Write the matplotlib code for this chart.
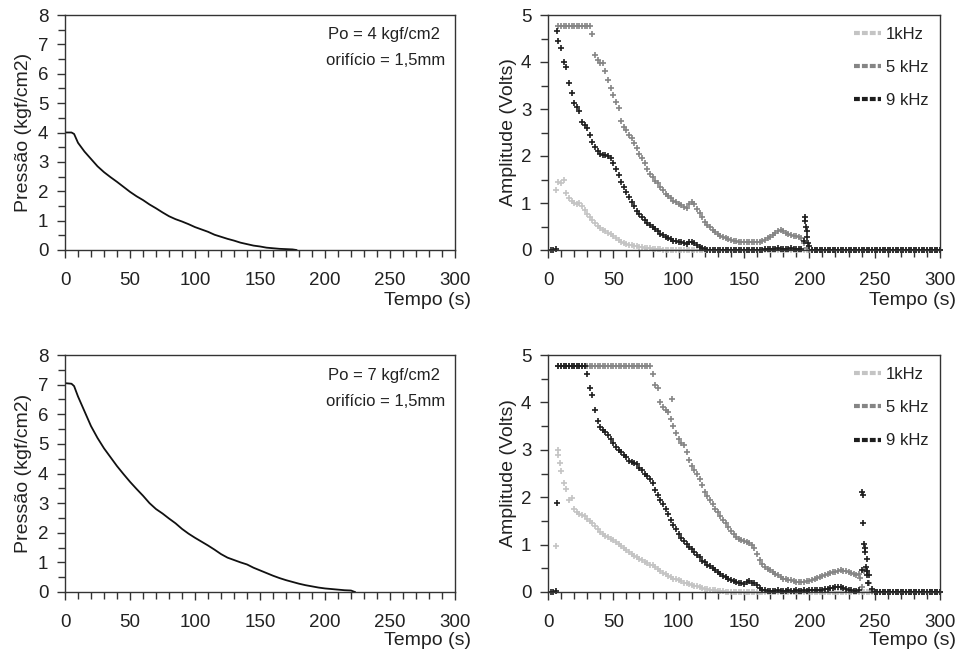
import numpy as np
import matplotlib
matplotlib.use("Agg")
import matplotlib.pyplot as plt
from matplotlib.lines import Line2D
from matplotlib.ticker import MultipleLocator

plt.rcParams['font.family'] = ['Liberation Sans', 'DejaVu Sans']
nan = np.nan

# ---------------- pressure data ----------------
p4_t = [0, 5, 7, 10, 15, 20, 25, 30, 35, 40, 45, 50, 55, 60, 65, 70, 75, 80, 85, 90,
        95, 100, 105, 110, 115, 120, 125, 130, 135, 140, 145, 150, 155, 160, 165, 170,
        175, 178]
p4_v = [4.0, 4.0, 3.95, 3.65, 3.35, 3.1, 2.85, 2.65, 2.48, 2.32, 2.15, 1.98, 1.83, 1.7,
        1.55, 1.42, 1.28, 1.15, 1.05, 0.97, 0.88, 0.78, 0.7, 0.62, 0.52, 0.45, 0.38,
        0.32, 0.25, 0.2, 0.15, 0.12, 0.08, 0.06, 0.04, 0.03, 0.02, 0.0]

p7_t = [0, 5, 7, 10, 15, 20, 25, 30, 35, 40, 45, 50, 55, 60, 65, 70, 75, 80, 85, 90,
        95, 100, 105, 110, 115, 120, 125, 130, 135, 140, 145, 150, 155, 160, 165, 170,
        175, 180, 185, 190, 195, 200, 205, 210, 215, 220, 223]
p7_v = [7.05, 7.03, 6.95, 6.6, 6.1, 5.6, 5.2, 4.85, 4.55, 4.25, 3.98, 3.72, 3.48, 3.25,
        3.0, 2.8, 2.65, 2.48, 2.32, 2.13, 1.97, 1.83, 1.7, 1.57, 1.43, 1.28, 1.16, 1.08,
        1.0, 0.93, 0.82, 0.73, 0.64, 0.55, 0.47, 0.4, 0.34, 0.28, 0.23, 0.19, 0.15, 0.12,
        0.1, 0.08, 0.06, 0.05, 0.0]

# ---------------- amplitude data (sampled every 2 s, t = 2 ... 300) ----------------
t_start, t_step = 2, 2

a1_top = [
    nan, nan, 1.28, 1.45, 1.42, 1.50, 1.22, 1.10, 1.05, 1.00,   # t 2-20
    0.98, 1.00, 0.93, 0.86, 0.76, 0.70, 0.63, 0.57, 0.52, 0.47,  # 22-40
    0.42, 0.40, 0.37, 0.35, 0.30, 0.26, 0.22, 0.17, 0.14, 0.13,  # 42-60
    0.11, 0.10, 0.09, 0.08, 0.07, 0.06, 0.05, 0.05, 0.04, 0.03,  # 62-80
    0.03, 0.02, 0.02, 0.01, 0.01, 0, 0, 0, 0, 0,                 # 82-100
    0, 0, 0, 0, 0, 0, 0, 0, 0, 0,
    0, 0, 0, 0, 0, 0, 0, 0, 0, 0,
    0, 0, 0, 0, 0, 0, 0, 0, 0, 0,
    0, 0, 0, 0, 0, 0, 0, 0, 0, 0,
    0, 0, 0, 0, 0, 0, 0, 0, 0, 0,
    0, 0, 0, 0, 0, 0, 0, 0, 0, 0,
    0, 0, 0, 0, 0, 0, 0, 0, 0, 0,
    0, 0, 0, 0, 0, 0, 0, 0, 0, 0,
    0, 0, 0, 0, 0, 0, 0, 0, 0, 0,
    0, 0, 0, 0, 0, 0, 0, 0, 0, 0,
]
a5_top = [
    nan, nan, nan, 4.77, 4.77, 4.77, 4.77, 4.77, 4.77, 4.77,    # 2-20
    4.77, 4.77, 4.77, 4.77, 4.77, 4.77, 4.60, 4.15, 4.05, 3.97,  # 22-40
    3.97, 3.80, 3.62, 3.45, 3.30, 3.15, 3.02, 2.75, 2.62, 2.55,  # 42-60
    2.45, 2.38, 2.28, 2.18, 2.05, 1.95, 1.85, 1.72, 1.62, 1.55,  # 62-80
    1.47, 1.42, 1.35, 1.27, 1.20, 1.15, 1.10, 1.05, 1.02, 0.98,  # 82-100
    0.95, 0.92, 0.90, 0.97, 1.02, 0.98, 0.88, 0.78, 0.70, 0.60,  # 102-120
    0.54, 0.48, 0.43, 0.38, 0.34, 0.30, 0.28, 0.25, 0.23, 0.22,  # 122-140
    0.20, 0.19, 0.18, 0.18, 0.17, 0.18, 0.16, 0.17, 0.16, 0.17,  # 142-160
    0.16, 0.19, 0.22, 0.25, 0.28, 0.32, 0.36, 0.40, 0.42, 0.40,  # 162-180
    0.36, 0.34, 0.32, 0.30, 0.30, 0.28, 0.25, 0.15, 0.05, 0,     # 182-200
    0, 0, 0, 0, 0, 0, 0, 0, 0, 0,
    0, 0, 0, 0, 0, 0, 0, 0, 0, 0,
    0, 0, 0, 0, 0, 0, 0, 0, 0, 0,
    0, 0, 0, 0, 0, 0, 0, 0, 0, 0,
    0, 0, 0, 0, 0, 0, 0, 0, 0, 0,
]
a9_top = [
    0, 0, 0.02, 4.45, 4.30, 4.00, 3.90, 3.55, 3.35, 3.12,       # 2-20
    3.05, 2.95, 2.72, 2.65, 2.60, 2.45, 2.30, 2.20, 2.10, 2.05,  # 22-40
    2.02, 2.03, 2.00, 1.95, 1.85, 1.72, 1.60, 1.45, 1.35, 1.24,  # 42-60
    1.12, 1.03, 0.94, 0.84, 0.76, 0.70, 0.63, 0.58, 0.53, 0.48,  # 62-80
    0.44, 0.40, 0.35, 0.31, 0.28, 0.26, 0.23, 0.20, 0.19, 0.18,  # 82-100
    0.16, 0.14, 0.13, 0.16, 0.18, 0.14, 0.10, 0.07, 0.04, 0.02,  # 102-120
    0.01, 0.01, 0, 0, 0, 0, 0.01, 0, 0, 0,                       # 122-140
    0, 0, 0.01, 0, 0, 0, 0.01, 0, 0, 0,                          # 142-160
    0, 0.01, 0.02, 0.02, 0.03, 0.03, 0.03, 0.04, 0.03, 0.03,     # 162-180
    0.03, 0.03, 0.04, 0.03, 0.03, 0.03, 0.02, 0.20, 0.40, 0.08,  # 182-200
    0, 0, 0, 0, 0, 0, 0, 0, 0, 0,
    0, 0, 0, 0, 0, 0, 0, 0, 0, 0,
    0, 0, 0, 0, 0, 0, 0, 0, 0, 0,
    0, 0, 0, 0, 0, 0, 0, 0, 0, 0,
    0, 0, 0, 0, 0, 0, 0, 0, 0, 0,
]
# off-grid samples (spikes)
a9_top_x_t = [7, 196.5, 197, 197.5, 198.5, 199]
a9_top_x_v = [4.65, 0.70, 0.62, 0.50, 0.28, 0.15]

a1_bot = [
    nan, nan, 0.97, 2.90, 2.55, 2.30, 2.18, 1.95, 1.98, 1.75,   # 2-20
    1.68, 1.65, 1.62, 1.60, 1.55, 1.50, 1.45, 1.40, 1.33, 1.27,  # 22-40
    1.22, 1.18, 1.15, 1.12, 1.09, 1.06, 1.02, 0.98, 0.93, 0.88,  # 42-60
    0.84, 0.80, 0.76, 0.73, 0.70, 0.67, 0.64, 0.61, 0.58, 0.56,  # 62-80
    0.52, 0.49, 0.45, 0.41, 0.37, 0.34, 0.31, 0.28, 0.27, 0.25,  # 82-100
    0.23, 0.20, 0.18, 0.16, 0.14, 0.13, 0.12, 0.10, 0.09, 0.07,  # 102-120
    0.06, 0.05, 0.04, 0.04, 0.03, 0.02, 0.02, 0.01, 0.01, 0,     # 122-140
    0, 0, 0, 0, 0, 0, 0, 0, 0, 0,
    0, 0, 0, 0, 0, 0, 0, 0, 0, 0,
    0, 0, 0, 0, 0, 0, 0, 0, 0, 0,
    0, 0, 0, 0, 0, 0, 0, 0, 0, 0,
    0, 0, 0, 0, 0, 0, 0, 0, 0, 0,
    0, 0, 0, 0, 0, 0, 0, 0, 0, 0,
    0, 0, 0, 0, 0, 0, 0, 0, 0, 0,
    0, 0, 0, 0, 0, 0, 0, 0, 0, 0,
]
a1_bot_x_t = [8, 9]
a1_bot_x_v = [2.99, 2.72]

a5_bot = [
    nan, nan, nan, 4.77, 4.77, 4.77, 4.77, 4.77, 4.77, 4.77,    # 2-20
    4.77, 4.77, 4.77, 4.77, 4.77, 4.77, 4.77, 4.77, 4.77, 4.77,  # 22-40
    4.77, 4.77, 4.77, 4.77, 4.77, 4.77, 4.77, 4.77, 4.77, 4.77,  # 42-60
    4.77, 4.77, 4.77, 4.77, 4.77, 4.77, 4.77, 4.77, 4.77, 4.60,  # 62-80
    4.37, 4.30, 4.00, 3.90, 3.85, 3.80, 3.66, 3.50, 3.35, 3.22,  # 82-100
    3.15, 3.10, 2.95, 2.78, 2.65, 2.57, 2.48, 2.39, 2.25, 2.12,  # 102-120
    2.02, 1.94, 1.85, 1.75, 1.69, 1.60, 1.52, 1.45, 1.38, 1.28,  # 122-140
    1.22, 1.16, 1.12, 1.09, 1.08, 1.06, 1.03, 1.00, 0.92, 0.80,  # 142-160
    0.68, 0.60, 0.53, 0.48, 0.46, 0.42, 0.38, 0.35, 0.31, 0.28,  # 162-180
    0.27, 0.26, 0.25, 0.24, 0.22, 0.22, 0.21, 0.21, 0.23, 0.24,  # 182-200
    0.25, 0.27, 0.29, 0.31, 0.33, 0.36, 0.39, 0.40, 0.42, 0.43,  # 202-220
    0.45, 0.46, 0.45, 0.44, 0.42, 0.40, 0.38, 0.36, 0.38, 0.10,  # 222-240
    0.44, 0.45, 0.20, 0.02, 0, 0, 0, 0, 0, 0,                    # 242-260
    0, 0, 0, 0, 0, 0, 0, 0, 0, 0,
    0, 0, 0, 0, 0, 0, 0, 0, 0, 0,
]
a5_bot_x_t = [95, 239]
a5_bot_x_v = [4.08, 0.30]

a9_bot = [
    0, 0, 0.02, 4.77, 4.77, 4.77, 4.77, 4.77, 4.77, 4.77,       # 2-20
    4.77, 4.77, 4.77, 4.77, 4.60, 4.30, 4.15, 3.85, 3.60, 3.48,  # 22-40
    3.42, 3.38, 3.31, 3.22, 3.15, 3.06, 3.00, 2.95, 2.88, 2.84,  # 42-60
    2.77, 2.74, 2.72, 2.70, 2.62, 2.57, 2.50, 2.45, 2.38, 2.30,  # 62-80
    2.15, 2.05, 1.95, 1.85, 1.75, 1.64, 1.52, 1.42, 1.33, 1.22,  # 82-100
    1.14, 1.08, 1.01, 0.95, 0.90, 0.85, 0.79, 0.73, 0.66, 0.63,  # 102-120
    0.58, 0.54, 0.50, 0.46, 0.42, 0.38, 0.34, 0.31, 0.28, 0.26,  # 122-140
    0.23, 0.21, 0.19, 0.18, 0.17, 0.22, 0.24, 0.20, 0.18, 0.14,  # 142-160
    0.08, 0.05, 0.04, 0.03, 0.03, 0.03, 0.03, 0.04, 0.03, 0.03,  # 162-180
    0.03, 0.04, 0.03, 0.03, 0.04, 0.03, 0.03, 0.04, 0.03, 0.04,  # 182-200
    0.04, 0.04, 0.05, 0.05, 0.05, 0.06, 0.07, 0.08, 0.09, 0.10,  # 202-220
    0.11, 0.10, 0.09, 0.07, 0.05, 0.04, 0.03, 0.03, 0.05, 0.46,  # 222-240
    1.02, 0.70, 0.35, 0.07, 0, 0, 0, 0, 0, 0,                    # 242-260
    0, 0, 0, 0, 0, 0, 0, 0, 0, 0,
    0, 0, 0, 0, 0, 0, 0, 0, 0, 0,
]
a9_bot_x_t = [7, 240.5, 241, 241.3, 242.3, 242.7, 243.3, 243.8, 244.2, 245]
a9_bot_x_v = [1.87, 2.10, 2.05, 1.45, 0.92, 0.85, 0.52, 0.45, 0.35, 0.18]

labels = ['1kHz', '5 kHz', '9 kHz']
colors = ['#c4c4c4', '#858585', '#1e1e1e']
press_notes = [("Po = 4 kgf/cm2", "orifício = 1,5mm"), ("Po = 7 kgf/cm2", "orifício = 1,5mm")]

TXT = '#222222'
fig = plt.figure(figsize=(9.63, 6.57), dpi=100)
W, H = 963, 657


def add_ax(l, t, r, b):
    return fig.add_axes([l / W, 1 - b / H, (r - l) / W, (b - t) / H])


axL1 = add_ax(65, 15, 455, 250)
axR1 = add_ax(548, 15, 940, 250)
axL2 = add_ax(65, 355, 455, 592)
axR2 = add_ax(548, 355, 940, 592)


def style(ax, ymax):
    ax.set_xlim(0, 300)
    ax.set_ylim(0, ymax)
    ax.xaxis.set_major_locator(MultipleLocator(50))
    ax.xaxis.set_minor_locator(MultipleLocator(10))
    ax.yaxis.set_major_locator(MultipleLocator(1))
    ax.yaxis.set_minor_locator(MultipleLocator(0.5))
    ax.tick_params(axis='both', which='both', direction='out', colors='#333333',
                   labelcolor=TXT, labelsize=13.5, width=1)
    ax.tick_params(axis='both', which='major', length=6)
    ax.tick_params(axis='both', which='minor', length=5)
    ax.tick_params(axis='x', pad=10)
    ax.tick_params(axis='y', pad=6)
    for s in ax.spines.values():
        s.set_color('#333333')
        s.set_linewidth(1.0)
    ax.set_xlabel('Tempo (s)', fontsize=14, color=TXT, ha='right', va='top')


for ax, (pt, pv), note, ly in [(axL1, (p4_t, p4_v), press_notes[0], -0.18),
                               (axL2, (p7_t, p7_v), press_notes[1], -0.17)]:
    style(ax, 8)
    ax.plot(pt, pv, color='#111111', lw=1.3)
    ax.set_ylabel('Pressão (kgf/cm2)', fontsize=14, color=TXT)
    ax.yaxis.set_label_coords(-0.085, 0.5)
    ax.xaxis.set_label_coords(1.04, ly)
    ax.text(0.962, 0.915, note[0], transform=ax.transAxes, ha='right', va='center',
            fontsize=12, color=TXT)
    ax.text(0.974, 0.805, note[1], transform=ax.transAxes, ha='right', va='center',
            fontsize=12, color=TXT)

panels = [
    (axR1, [a1_top, a5_top, a9_top], [([], []), ([], []), (a9_top_x_t, a9_top_x_v)], -0.18),
    (axR2, [a1_bot, a5_bot, a9_bot], [(a1_bot_x_t, a1_bot_x_v), (a5_bot_x_t, a5_bot_x_v),
                                      (a9_bot_x_t, a9_bot_x_v)], -0.17),
]
for ax, series, extras, ly in panels:
    style(ax, 5)
    for vals, (xt, xv), c in zip(series, extras, colors):
        t = t_start + t_step * np.arange(len(vals))
        v = np.array(vals, dtype=float)
        ax.plot(t, v, ls='none', marker='+', ms=4.8, mew=1.2, color=c, clip_on=False)
        if xt:
            ax.plot(xt, xv, ls='none', marker='+', ms=4.8, mew=1.2, color=c, clip_on=False)
    ax.set_ylabel('Amplitude (Volts)', fontsize=14, color=TXT)
    ax.yaxis.set_label_coords(-0.078, 0.5)
    ax.xaxis.set_label_coords(1.04, ly)
    handles = [Line2D([], [], color=c, lw=3, dashes=(1.4, 0.5)) for c in colors]
    leg = ax.legend(handles, labels, loc='upper right', bbox_to_anchor=(1.0, 1.0),
                    frameon=False, fontsize=12, handlelength=1.6, handletextpad=0.3,
                    labelspacing=1.1, borderaxespad=0.3)
    for txt in leg.get_texts():
        txt.set_color(TXT)

fig.savefig('out.png', dpi=100)
